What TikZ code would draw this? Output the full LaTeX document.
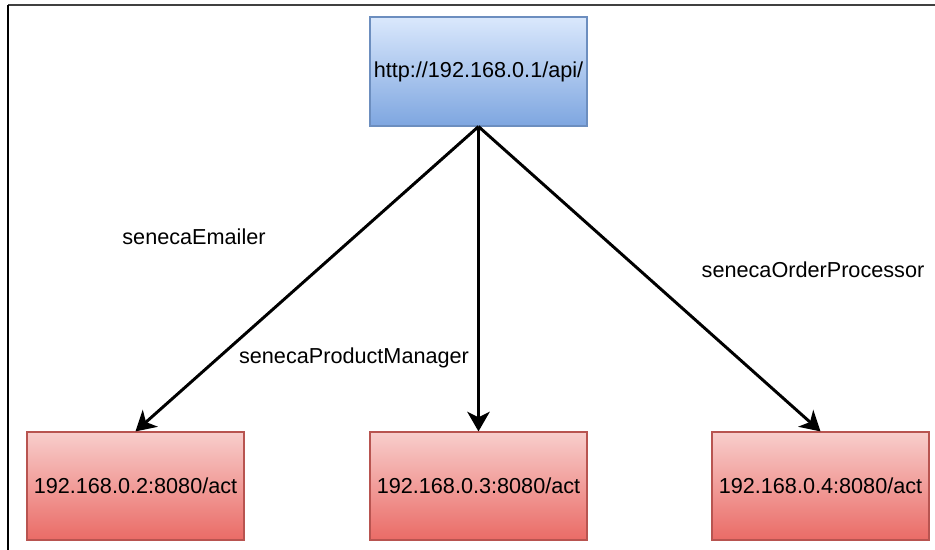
\documentclass[tikz,border=0pt]{standalone}
\usepackage{fontspec}
\setmainfont{Liberation Sans}
\usepackage{tikz}
\usetikzlibrary{arrows.meta,positioning,calc}
\definecolor{apitop}{HTML}{DAE8FC}
\definecolor{apibot}{HTML}{7EA6E0}
\definecolor{apiline}{HTML}{6C8EBF}
\definecolor{acttop}{HTML}{F8CECC}
\definecolor{actbot}{HTML}{EA6B66}
\definecolor{actline}{HTML}{B85450}
\newcommand{\lbl}{\fontsize{15.4}{18}\selectfont}
\begin{document}
\begin{tikzpicture}
[-{Stealth[length=14pt,width=16pt,inset=4pt]}, line width=2.1pt,
font=\lbl,
box/.style={
draw, line width=0.8pt, inner sep=0pt,
minimum width=5.425cm,
minimum height=2.7cm},
apibox/.style={box, draw=apiline, top color=apitop, bottom color=apibot, minimum height=2.725cm},
actbox/.style={box, draw=actline, top color=acttop, bottom color=actbot}]
\useasboundingbox (0,0) rectangle (23.375,13.75);
\draw[-,line width=1.1pt,black!75] (0.2,13.625) -- (23.375,13.625);
\draw[-,line width=1.1pt,black] (0.2,13.625) -- (0.2,0);

\node (api) at (11.9625,11.9625) [apibox] {http://192.168.0.1/api/};
\node (act2) at (3.3875,1.6) [actbox] {192.168.0.2:8080/act};
\node (act3) at (11.9625,1.6) [actbox] {192.168.0.3:8080/act};
\node (act4) at (20.5125,1.6) [actbox] {192.168.0.4:8080/act};

\node (emailer) at (4.85,7.825) {senecaEmailer};
\node (product) at (8.85,4.8) {senecaProductManager};
\node (order) at (20.325,7.0) {senecaOrderProcessor};

\draw (api.south) -- (act2.north);
\draw (api.south) -- (act3.north);
\draw (api.south) -- (act4.north);

\end{tikzpicture}
\end{document}
